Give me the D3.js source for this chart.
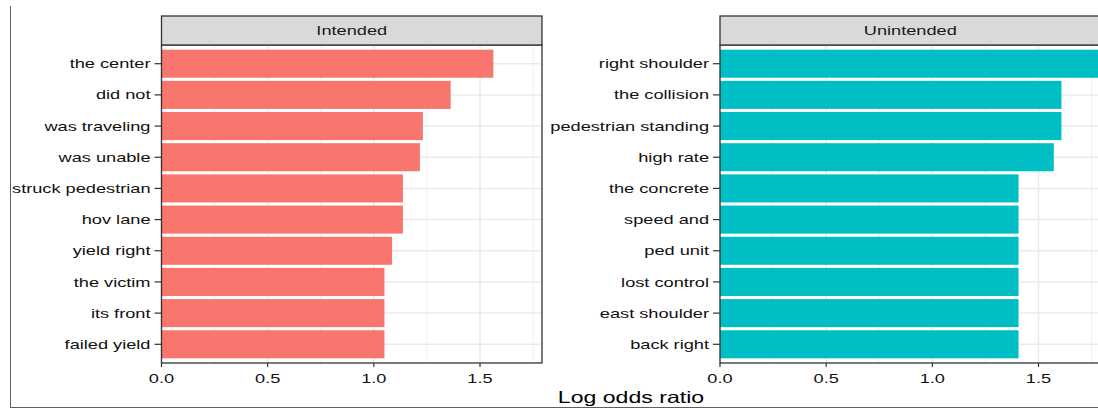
<!DOCTYPE html>
<html>
<head>
<meta charset="utf-8">
<script src="https://cdn.jsdelivr.net/npm/d3@7"></script>
<style>
  html, body { margin: 0; padding: 0; background: #ffffff; }
  svg { display: block; }
  text { font-family: "Liberation Sans", Arial, sans-serif; }
</style>
</head>
<body>
<svg id="chart" width="1098" height="409"></svg>
<script>
// ---- data ----
const panelTitles = ["Intended", "Unintended"];
const intendedTerms = ["the center", "did not", "was traveling", "was unable", "struck pedestrian",
                       "hov lane", "yield right", "the victim", "its front", "failed yield"];
const intendedValues = [1.563, 1.362, 1.231, 1.217, 1.137, 1.137, 1.086, 1.050, 1.050, 1.050];
const unintendedTerms = ["right shoulder", "the collision", "pedestrian standing", "high rate", "the concrete",
                         "speed and", "ped unit", "lost control", "east shoulder", "back right"];
const unintendedValues = [1.792, 1.608, 1.608, 1.572, 1.406, 1.406, 1.406, 1.406, 1.406, 1.406];
const xTicks = [0, 0.5, 1.0, 1.5];
const xMinorTicks = [0.25, 0.75, 1.25, 1.75];
const xTitle = "Log odds ratio";
const barColors = ["#F8766D", "#00BFC4"];

// ---- layout ----
const W = 1098, H = 409;
const SX = 1.4;            // horizontal stretch of the reference image
const fsAxis = 13, fsStrip = 13, fsTitle = 16.5;
const headerTop = 16, panelTop = 45, panelBottom = 363;
const panels = [
  {x0: 161.5, x1: 542, terms: intendedTerms, values: intendedValues},
  {x0: 720, x1: 1100.5, terms: unintendedTerms, values: unintendedValues}
];
const xMax = d3.max(intendedValues.concat(unintendedValues));

const svg = d3.select("#chart");

function stretchedText(g, x, y, str, opts) {
  return g.append("g").attr("transform", `translate(${x},${y})`)
    .append("text")
    .attr("transform", `scale(${SX},1)`)
    .attr("font-size", opts.size)
    .attr("fill", opts.fill || "#1a1a1a")
    .attr("text-anchor", opts.anchor || "start")
    .text(str);
}

// outer frame
svg.append("line").attr("x1", 10.5).attr("x2", 10.5).attr("y1", 6).attr("y2", 407.5)
  .attr("stroke", "#606060").attr("stroke-width", 1);
svg.append("line").attr("x1", 10).attr("x2", W).attr("y1", 407.5).attr("y2", 407.5)
  .attr("stroke", "#606060").attr("stroke-width", 1.2);

panels.forEach((p, i) => {
  const g = svg.append("g");
  const x = d3.scaleLinear().domain([0, xMax]).range([p.x0, p.x1]);
  const y = d3.scalePoint().domain(p.terms).range([panelTop, panelBottom]).padding(0.6);
  const step = y.step();

  g.append("rect").attr("x", p.x0).attr("y", panelTop).attr("width", p.x1 - p.x0)
    .attr("height", panelBottom - panelTop).attr("fill", "#ffffff");

  g.selectAll(".minor").data(xMinorTicks).join("line")
    .attr("x1", d => x(d)).attr("x2", d => x(d))
    .attr("y1", panelTop).attr("y2", panelBottom)
    .attr("stroke", "#EBEBEB").attr("stroke-width", 0.8);
  g.selectAll(".major").data(xTicks).join("line")
    .attr("x1", d => x(d)).attr("x2", d => x(d))
    .attr("y1", panelTop).attr("y2", panelBottom)
    .attr("stroke", "#EBEBEB").attr("stroke-width", 1.5);
  g.selectAll(".hgrid").data(p.terms).join("line")
    .attr("x1", p.x0).attr("x2", p.x1)
    .attr("y1", d => y(d)).attr("y2", d => y(d))
    .attr("stroke", "#EBEBEB").attr("stroke-width", 1.5);

  g.selectAll(".bar").data(p.terms).join("rect")
    .attr("x", x(0))
    .attr("y", d => y(d) - step * 0.45)
    .attr("width", (d, k) => x(p.values[k]) - x(0))
    .attr("height", step * 0.9)
    .attr("fill", barColors[i]);

  g.append("rect").attr("x", p.x0).attr("y", panelTop).attr("width", p.x1 - p.x0)
    .attr("height", panelBottom - panelTop).attr("fill", "none")
    .attr("stroke", "#333333").attr("stroke-width", 1.3);

  g.append("rect").attr("x", p.x0).attr("y", headerTop).attr("width", p.x1 - p.x0)
    .attr("height", panelTop - headerTop).attr("fill", "#D9D9D9")
    .attr("stroke", "#333333").attr("stroke-width", 1.3);
  stretchedText(g, (p.x0 + Math.min(p.x1, p.x0 + 380.5)) / 2, (headerTop + panelTop) / 2 + 4.8,
    panelTitles[i], {size: fsStrip, anchor: "middle", fill: "#1a1a1a"});

  p.terms.forEach(t => {
    g.append("line").attr("x1", p.x0 - 7).attr("x2", p.x0).attr("y1", y(t)).attr("y2", y(t))
      .attr("stroke", "#333333").attr("stroke-width", 1.2);
    stretchedText(g, p.x0 - 11, y(t) + 4.6, t, {size: fsAxis, anchor: "end", fill: "#111111"});
  });

  xTicks.forEach(v => {
    g.append("line").attr("x1", x(v)).attr("x2", x(v)).attr("y1", panelBottom).attr("y2", panelBottom + 4)
      .attr("stroke", "#333333").attr("stroke-width", 1.2);
    stretchedText(g, x(v), 382.5, d3.format(".1f")(v), {size: fsAxis, anchor: "middle", fill: "#111111"});
  });
});

stretchedText(svg, (panels[0].x0 + panels[1].x1) / 2, 403, xTitle, {size: fsTitle, anchor: "middle", fill: "#000000"});
</script>
</body>
</html>
